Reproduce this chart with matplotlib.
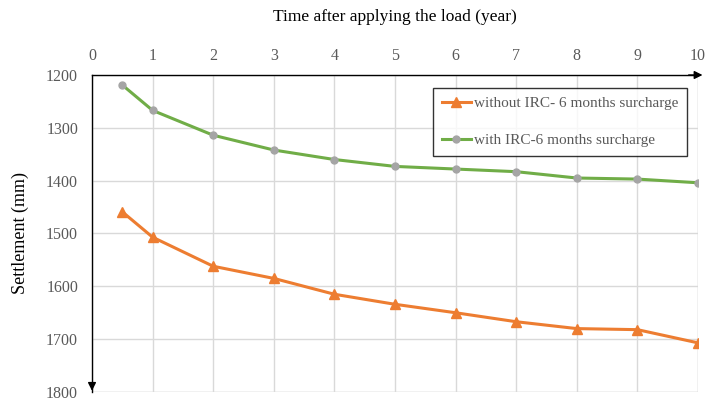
import matplotlib.pyplot as plt

# data
years = [0.5, 1, 2, 3, 4, 5, 6, 7, 8, 9, 10]
without_irc = [1459, 1507, 1562, 1585, 1615, 1634, 1650, 1667, 1680, 1682, 1707]
with_irc = [1219, 1267, 1314, 1342, 1360, 1373, 1378, 1383, 1395, 1397, 1404]

plt.rcParams['font.family'] = ['Liberation Serif', 'DejaVu Serif']

fig = plt.figure(figsize=(7.21, 4.03), dpi=100)
ax = fig.add_axes([0.1276, 0.0273, 0.8405, 0.7866])

ax.plot(years, without_irc, color='#ED7D31', lw=2.2, marker='^', ms=7,
        mfc='#ED7D31', mec='#ED7D31', label='without IRC- 6 months surcharge')
ax.plot(years, with_irc, color='#70AD47', lw=2.2, marker='o', ms=5,
        mfc='#A5A5A5', mec='#A5A5A5', label='with IRC-6 months surcharge')

ax.set_xlim(0, 10)
ax.set_ylim(1800, 1200)
ax.set_xticks(range(0, 11))
ax.set_yticks(range(1200, 1801, 100))
ax.xaxis.tick_top()
ax.xaxis.set_label_position('top')
ax.tick_params(length=0, labelsize=11.5, colors='#595959')
ax.tick_params(axis='x', pad=8)
ax.tick_params(axis='y', pad=10)

ax.grid(True, color='#D9D9D9', lw=1)
ax.set_axisbelow(True)
for s in ['right', 'bottom']:
    ax.spines[s].set_visible(False)
ax.spines['top'].set_color('black')
ax.spines['left'].set_color('black')
ax.spines['top'].set_linewidth(1)
ax.spines['left'].set_linewidth(1)
# gridline-coloured edges at x=10 and y=1800
ax.axvline(10, color='#D9D9D9', lw=1, zorder=0)
ax.axhline(1800, color='#D9D9D9', lw=1, zorder=0)

# arrows at the ends of the axes
ax.annotate('', xy=(1.012, 1), xytext=(0.98, 1), xycoords='axes fraction',
            arrowprops=dict(arrowstyle='-|>', color='black', lw=1, mutation_scale=12),
            annotation_clip=False)
ax.annotate('', xy=(0, -0.005), xytext=(0, 0.03), xycoords='axes fraction',
            arrowprops=dict(arrowstyle='-|>', color='black', lw=1, mutation_scale=12),
            annotation_clip=False)

ax.set_xlabel('Time after applying the load (year)', fontsize=12.5, labelpad=19)
ax.set_ylabel('Settlement (mm)', fontsize=13, labelpad=12)

leg = ax.legend(loc='upper right', bbox_to_anchor=(0.994, 0.983), fontsize=11,
                frameon=True, fancybox=False, edgecolor='black',
                labelspacing=1.55, borderpad=0.55, handlelength=1.9, handletextpad=0.2)
leg.get_frame().set_linewidth(1)
for t in leg.get_texts():
    t.set_color('#595959')

fig.savefig('out.png', dpi=100)
